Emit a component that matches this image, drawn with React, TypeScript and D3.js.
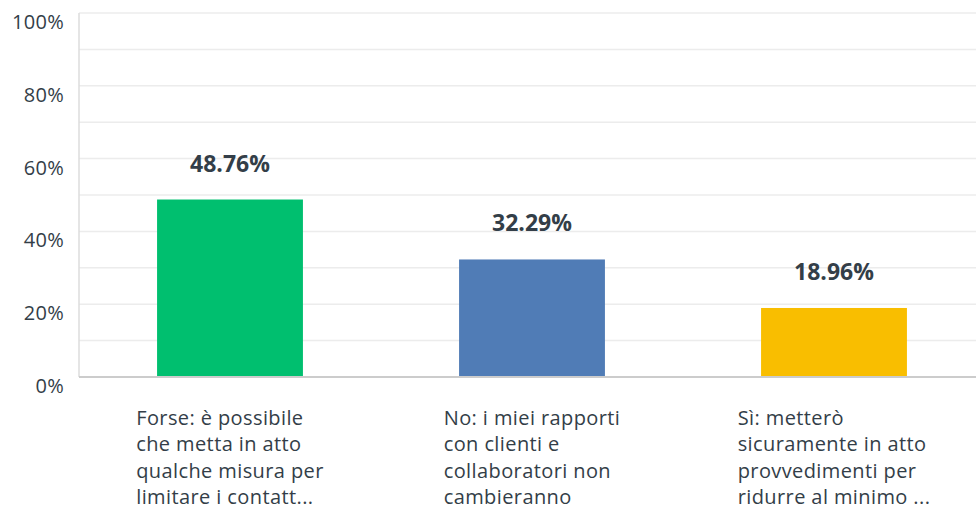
import React from "react";
import * as d3 from "d3";

const categories = ["Forse", "No", "Sì"];
const categoryLines = [
  ["Forse: è possibile", "che metta in atto", "qualche misura per", "limitare i contatt..."],
  ["No: i miei rapporti", "con clienti e", "collaboratori non", "cambieranno"],
  ["Sì: metterò", "sicuramente in atto", "provvedimenti per", "ridurre al minimo ..."],
];
const values = [48.76, 32.29, 18.96];
const colors = ["#00bf6f", "#507cb6", "#f9be00"];
const yTicks = [0, 20, 40, 60, 80, 100];
const gridTicks = [0, 10, 20, 30, 40, 50, 60, 70, 80, 90, 100];

const W = 976;
const H = 510;
const FONT = "'Open Sans', 'Noto Sans', sans-serif";
const TEXT = "#333e48";
const CAT_SIZE = 20;
const CAT_LS = 0.4;

let ctx: CanvasRenderingContext2D | null = null;
function measure(s: string): number {
  if (!ctx) ctx = document.createElement("canvas").getContext("2d");
  if (!ctx) return s.length * 10;
  ctx.font = `${CAT_SIZE}px 'Open Sans'`;
  return ctx.measureText(s).width + s.length * CAT_LS;
}

export default function App() {
  const x = d3
    .scaleBand<string>()
    .domain(categories)
    .range([79, 985])
    .paddingInner(0.517)
    .paddingOuter(0.2585);
  const y = d3.scaleLinear().domain([0, 100]).range([377, 13]);
  const bw = x.bandwidth();

  return (
    <svg
      width={W}
      height={H}
      style={{ position: "absolute", left: 0, top: 0 }}
      fontFamily={FONT}
    >
      {gridTicks.map((t) => (
        <line
          key={t}
          x1={79}
          x2={W}
          y1={y(t)}
          y2={y(t)}
          stroke="#ececec"
          strokeWidth={1.5}
        />
      ))}
      <line x1={79} x2={79} y1={y(100)} y2={y(0)} stroke="#dddddd" strokeWidth={1.5} />
      {yTicks.map((t) => (
        <text
          key={t}
          x={64}
          y={y(t) + 16}
          textAnchor="end"
          fontSize={20}
          letterSpacing={0.3}
          fill={TEXT}
        >
          {t}%
        </text>
      ))}
      {categories.map((c, i) => {
        const cx = (x(c) as number) + bw / 2;
        const maxW = d3.max(categoryLines[i], measure) as number;
        const left = cx - maxW / 2;
        return (
          <g key={c}>
            <rect
              x={x(c)}
              y={y(values[i])}
              width={bw}
              height={y(0) - y(values[i])}
              fill={colors[i]}
            />
            <text
              x={cx}
              y={y(values[i]) - 28}
              textAnchor="middle"
              fontSize={23}
              fontWeight={700}
              fill={TEXT}
            >
              {values[i].toFixed(2)}%
            </text>
            <text fontSize={CAT_SIZE} letterSpacing={CAT_LS} fill={TEXT}>
              {categoryLines[i].map((l, j) => (
                <tspan key={j} x={left} y={425 + j * 26.3}>
                  {l}
                </tspan>
              ))}
            </text>
          </g>
        );
      })}
      <line x1={79} x2={W} y1={y(0)} y2={y(0)} stroke="#cccccc" strokeWidth={2} />
    </svg>
  );
}
